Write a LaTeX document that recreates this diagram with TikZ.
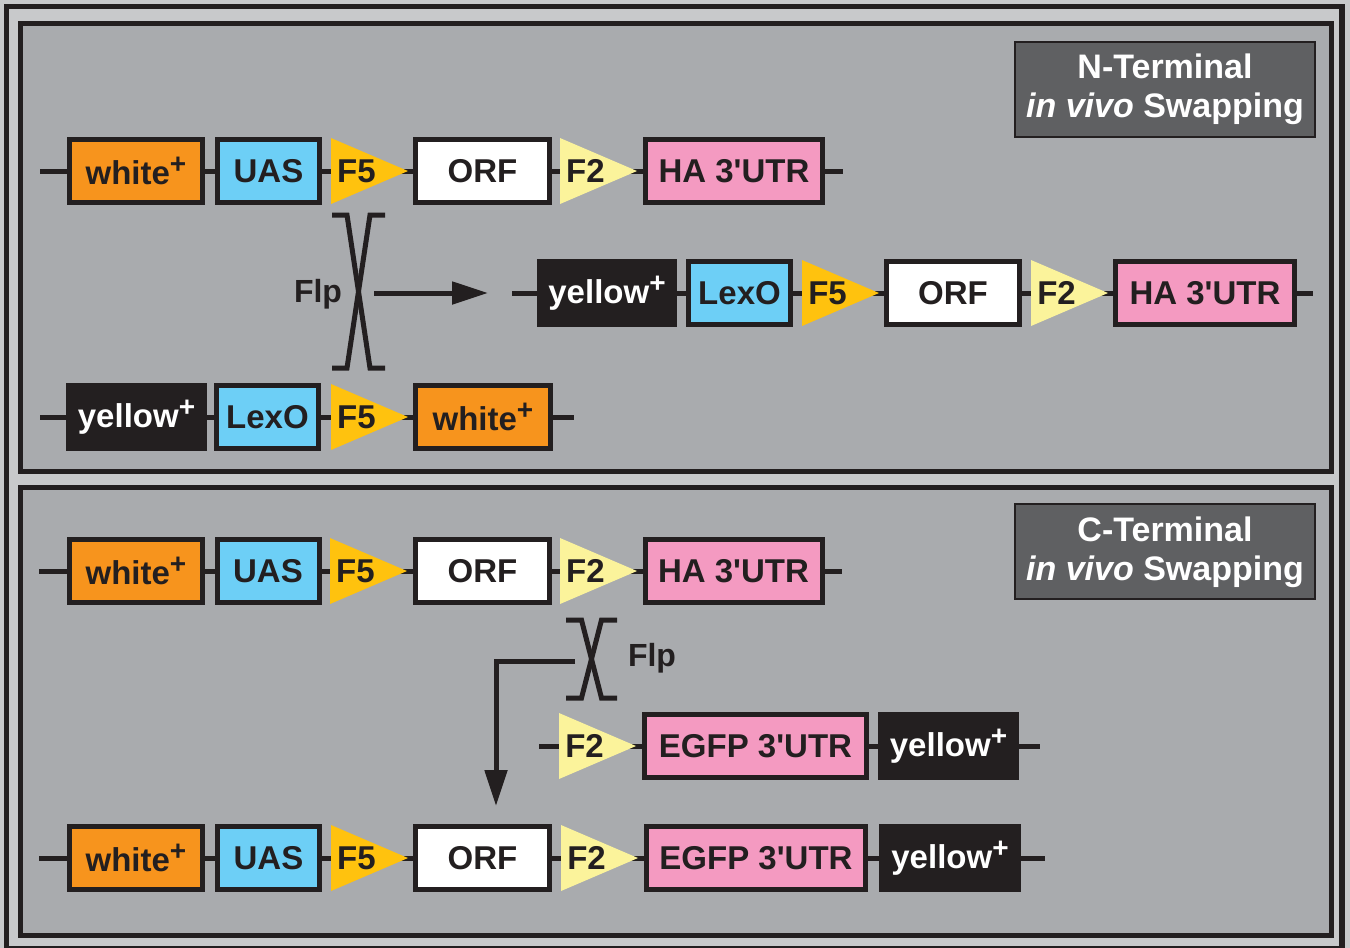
\documentclass[tikz,border=0pt]{standalone}
\usepackage{fontspec}
\setmainfont{Liberation Sans}
\usetikzlibrary{arrows.meta}

\definecolor{ink}{HTML}{231F20}
\definecolor{lightC}{HTML}{C8C9CB}
\definecolor{panelC}{HTML}{A9ABAE}
\definecolor{headC}{HTML}{5F6062}
\definecolor{orangeC}{HTML}{F7941D}
\definecolor{cyanC}{HTML}{6DCFF6}
\definecolor{pinkC}{HTML}{F49AC1}
\definecolor{fiveC}{HTML}{FFC20E}
\definecolor{twoC}{HTML}{FBF39B}

\newcommand{\plusmark}{\raisebox{11pt}{\fontsize{28}{28}\selectfont +}}
\newcommand{\labfont}{\fontsize{33}{33}\selectfont\bfseries}
\newcommand{\utr}{3\textquotesingle UTR}

% name, left x, centre y, colour, text
\newcommand{\sitetri}[5]{%
  \fill[#4] ({#2},{#3-33}) -- ({#2},{#3+33}) -- ({#2+77},{#3}) -- cycle;
  \node[trilabel] (#1) at ({#2+25.5},{#3}) {#5};}

% centre x, top y, bottom y, stroke offset, serif offset
\newcommand{\flpcross}[5]{%
  \draw[crossline] ({#1-#5},{#2}) -- ({#1-#4},{#2}) -- ({#1+#4},{#3}) -- ({#1+#5},{#3});
  \draw[crossline] ({#1+#5},{#2}) -- ({#1+#4},{#2}) -- ({#1-#4},{#3}) -- ({#1-#5},{#3});}

\tikzset{
  gbox/.style={draw=ink, line width=5pt, minimum height=63pt, inner sep=0pt,
    font=\labfont, text=ink},
  wbox/.style={gbox, fill=white},
  obox/.style={gbox, fill=orangeC},
  cbox/.style={gbox, fill=cyanC},
  pbox/.style={gbox, fill=pinkC},
  kbox/.style={gbox, fill=ink, text=white},
  trilabel/.style={font=\labfont, text=ink, inner sep=0pt},
  backbone/.style={draw=ink, line width=5pt},
  crossline/.style={draw=ink, line width=5pt, line join=miter},
  arrowline/.style={draw=ink, line width=5pt, line join=miter,
    -{Triangle[length=36pt,width=22pt]}},
  headbox/.style={draw=ink, line width=1.5pt, fill=headC, minimum width=300pt,
    minimum height=95pt, inner sep=0pt},
  headtext/.style={font=\fontsize{34}{34}\selectfont\bfseries, text=white,
    anchor=base, inner sep=0pt},
  flptext/.style={font=\fontsize{32}{32}\selectfont\bfseries, text=ink,
    anchor=base, inner sep=0pt},
}

\begin{document}
\begin{tikzpicture}[x=1pt, y=-1pt]
\useasboundingbox (0,0) rectangle (1350,948);
\fill[lightC] (0,0) rectangle (1350,948);
\draw[ink, line width=5.5pt] (6.5,6.5) rectangle (1342,949);
\draw[ink, line width=5pt, fill=panelC] (20.5,23) rectangle (1331,471.5);
\draw[ink, line width=5pt, fill=panelC] (20.5,487.5) rectangle (1331,935);

% header boxes
\node[headbox] (nhead) at (1165,89.5) {};
\node[headtext] (nh1) at (1165,78) {N-Terminal};
\node[headtext] (nh2) at (1165,117) {\textit{in vivo} Swapping};
\node[headbox] (chead) at (1165,551.5) {};
\node[headtext] (ch1) at (1165,541) {C-Terminal};
\node[headtext] (ch2) at (1165,580) {\textit{in vivo} Swapping};

% ---- top panel, row 1
\coordinate (a0) at (40,171); \coordinate (a9) at (843,171);
\draw[backbone] (a0) -- (a9);
\node[obox, minimum width=133pt] (a1) at (136,171) {white\plusmark};
\node[cbox, minimum width=102pt] (a2) at (268.5,171) {UAS};
\sitetri{a3}{331}{171}{fiveC}{F5}
\node[wbox, minimum width=134pt] (a4) at (482.5,171) {ORF};
\sitetri{a5}{560}{171}{twoC}{F2}
\node[pbox, minimum width=177pt] (a6) at (734,171) {HA \utr};

% ---- top panel, row 2 (product)
\coordinate (b0) at (512,293); \coordinate (b9) at (1313,293);
\draw[backbone] (b0) -- (b9);
\node[kbox, minimum width=135pt] (b1) at (607,293) {yellow\plusmark};
\node[cbox, minimum width=102pt] (b2) at (739.5,293) {LexO};
\sitetri{b3}{802}{293}{fiveC}{F5}
\node[wbox, minimum width=133pt] (b4) at (953,293) {ORF};
\sitetri{b5}{1031}{293}{twoC}{F2}
\node[pbox, minimum width=179pt] (b6) at (1205,293) {HA \utr};

% ---- top panel, row 3
\coordinate (c0) at (40,417); \coordinate (c9) at (574,417);
\draw[backbone] (c0) -- (c9);
\node[kbox, minimum width=136pt] (c1) at (136.5,417) {yellow\plusmark};
\node[cbox, minimum width=102pt] (c2) at (267.5,417) {LexO};
\sitetri{c3}{331}{417}{fiveC}{F5}
\node[obox, minimum width=135pt] (c4) at (483,417) {white\plusmark};

% Flp crossover (top)
\flpcross{358.5}{215}{368}{11.5}{26.5}
\node[flptext] (flp1) at (318,302) {Flp};
\coordinate (fa1) at (374,293); \coordinate (fa2) at (488,293);
\draw[arrowline] (fa1) -- (fa2);

% ---- bottom panel, row 1
\coordinate (d0) at (39,571); \coordinate (d9) at (842,571);
\draw[backbone] (d0) -- (d9);
\node[obox, minimum width=133pt] (d1) at (136,571) {white\plusmark};
\node[cbox, minimum width=102pt] (d2) at (268,571) {UAS};
\sitetri{d3}{330}{571}{fiveC}{F5}
\node[wbox, minimum width=134pt] (d4) at (482.5,571) {ORF};
\sitetri{d5}{560}{571}{twoC}{F2}
\node[pbox, minimum width=177pt] (d6) at (733.5,571) {HA \utr};

% Flp crossover (bottom)
\flpcross{591.5}{620}{698}{10}{25.5}
\node[flptext] (flp2) at (652,666) {Flp};
\coordinate (ca1) at (575,661); \coordinate (ca2) at (496,806);
\draw[arrowline] (ca1) -| (ca2);

% ---- bottom panel, row 2
\coordinate (e0) at (539,746); \coordinate (e9) at (1040,746);
\draw[backbone] (e0) -- (e9);
\sitetri{e1}{559}{746}{twoC}{F2}
\node[pbox, minimum width=222pt] (e2) at (755.5,746) {EGFP \utr};
\node[kbox, minimum width=136pt] (e3) at (948.5,746) {yellow\plusmark};

% ---- bottom panel, row 3
\coordinate (f0) at (39,858); \coordinate (f9) at (1045,858);
\draw[backbone] (f0) -- (f9);
\node[obox, minimum width=133pt] (f1) at (136,858) {white\plusmark};
\node[cbox, minimum width=102pt] (f2) at (268.5,858) {UAS};
\sitetri{f3}{331}{858}{fiveC}{F5}
\node[wbox, minimum width=134pt] (f4) at (482.5,858) {ORF};
\sitetri{f5}{561}{858}{twoC}{F2}
\node[pbox, minimum width=219pt] (f6) at (756,858) {EGFP \utr};
\node[kbox, minimum width=137pt] (f7) at (950,858) {yellow\plusmark};
\end{tikzpicture}
\end{document}
